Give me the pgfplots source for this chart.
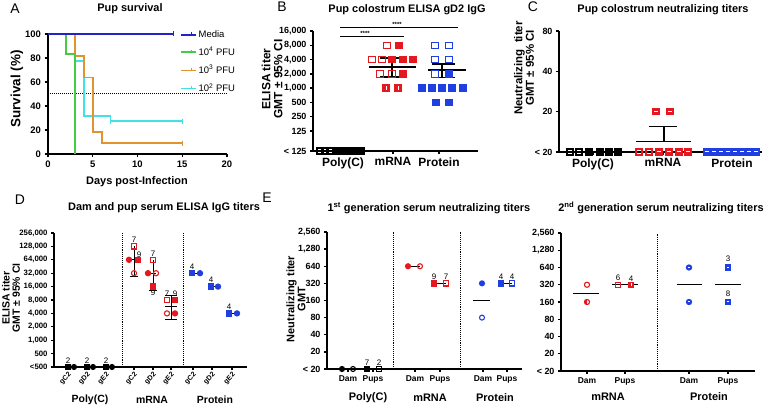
\documentclass[border=0pt]{standalone}
\usepackage{fontspec}
\setmainfont{Liberation Sans}
\usepackage{pgfplots}
\pgfplotsset{compat=1.18}

\definecolor{pRed}{HTML}{E5181F}
\definecolor{pBlue}{HTML}{1F3FE0}
\definecolor{mBlue}{HTML}{2222C8}
\definecolor{pGreen}{HTML}{44CC44}
\definecolor{pOrange}{HTML}{E2922F}
\definecolor{pCyan}{HTML}{40E2E8}

\newcommand{\fs}[1]{\fontsize{#1}{#1}\selectfont}

% filled square with a white dash / bar, circle with dash, half circle
\pgfdeclareplotmark{sqdash}{%
  \pgfpathrectangle{\pgfqpoint{-\pgfplotmarksize}{-\pgfplotmarksize}}{\pgfqpoint{2\pgfplotmarksize}{2\pgfplotmarksize}}%
  \pgfusepathqfillstroke
  \pgfscope\pgfsetstrokecolor{white}\pgfsetlinewidth{1bp}%
  \pgfpathmoveto{\pgfqpoint{-0.55\pgfplotmarksize}{0pt}}\pgfpathlineto{\pgfqpoint{0.55\pgfplotmarksize}{0pt}}\pgfusepathqstroke
  \endpgfscope}
\pgfdeclareplotmark{sqbar}{%
  \pgfpathrectangle{\pgfqpoint{-\pgfplotmarksize}{-\pgfplotmarksize}}{\pgfqpoint{2\pgfplotmarksize}{2\pgfplotmarksize}}%
  \pgfusepathqfillstroke
  \pgfscope\pgfsetstrokecolor{white}\pgfsetlinewidth{1bp}%
  \pgfpathmoveto{\pgfqpoint{0pt}{-0.55\pgfplotmarksize}}\pgfpathlineto{\pgfqpoint{0pt}{0.55\pgfplotmarksize}}\pgfusepathqstroke
  \endpgfscope}
\pgfdeclareplotmark{cdash}{%
  \pgfpathcircle{\pgfpointorigin}{\pgfplotmarksize}\pgfusepathqfillstroke
  \pgfscope\pgfsetstrokecolor{white}\pgfsetlinewidth{1bp}%
  \pgfpathmoveto{\pgfqpoint{-0.5\pgfplotmarksize}{0pt}}\pgfpathlineto{\pgfqpoint{0.5\pgfplotmarksize}{0pt}}\pgfusepathqstroke
  \endpgfscope}
\pgfdeclareplotmark{chalf}{%
  \pgfpathmoveto{\pgfqpoint{0pt}{\pgfplotmarksize}}%
  \pgfpatharc{90}{270}{\pgfplotmarksize}\pgfpathclose\pgfusepathqfill
  \pgfpathcircle{\pgfpointorigin}{\pgfplotmarksize}\pgfusepathqstroke}

\pgfplotsset{
  prism/.style={scale only axis, clip=false, anchor=south west,
    axis lines*=left, axis line style={line width=1.6bp,-},
    tick style={line width=1.3bp, black}, tick align=outside,
    major tick length=3.5bp, minor tick num=0,
    ticklabel style={font=\bfseries\fs{9}}},
}
\tikzset{
  mk/.style={only marks, mark options={solid, line width=1.1bp}},
  ln/.style={black, line width=1.2bp, mark=none},
  lab/.style={font=\fs{8}, inner sep=0.5bp},
  sep/.style={densely dotted, line width=0.9bp, black, mark=none},
}

\begin{document}
\begin{tikzpicture}
\path[use as bounding box] (0,0) rectangle (765bp,407bp);

% ---------------- A: survival
\begin{axis}[prism, at={(48bp,253bp)}, width=179bp, height=120bp,
  xmin=0, xmax=20, ymin=0, ymax=100,
  xtick={0,5,10,15,20}, xticklabels={0,5,10,15,20},
  ytick={0,20,40,60,80,100}, yticklabels={0,20,40,60,80,100},
  ticklabel style={font=\bfseries\fs{9.5}},
  legend style={at={(0.737,1.045)}, anchor=north west, draw=none, fill=none,
    font=\fs{9.5}, row sep=4.2bp, inner sep=0pt},
  legend cell align=left,
  legend image code/.code={\draw[#1] (0bp,0bp)--(15bp,0bp);
    \draw[#1,line width=0.8bp] (10bp,0bp)--(10bp,2.5bp);}]
\addlegendimage{mBlue,line width=1.6bp}\addlegendentry{Media}
\addlegendimage{pGreen,line width=1.6bp}\addlegendentry{10\textsuperscript{4} PFU}
\addlegendimage{pOrange,line width=1.6bp}\addlegendentry{10\textsuperscript{3} PFU}
\addlegendimage{pCyan,line width=1.6bp}\addlegendentry{10\textsuperscript{2} PFU}
\addplot[densely dotted, line width=1bp, forget plot] coordinates {(0,50)(20,50)};
\addplot[const plot, pCyan, line width=1.6bp, forget plot] coordinates {(0,100)(3,77.3)(4,31.8)(7,27.3)(15,27.3)};
\addplot[const plot, pOrange, line width=1.6bp, forget plot] coordinates {(0,100)(3,81.8)(4,63.6)(5,18.2)(6,9.1)(15,9.1)};
\addplot[const plot, pGreen, line width=1.6bp, forget plot] coordinates {(0,100)(2,83.3)(3,0)};
\addplot[mBlue, line width=1.8bp, forget plot] coordinates {(0,100)(14,100)};
\addplot[only marks, mark=|, mark size=2.5bp, mBlue, line width=1bp, forget plot] coordinates {(14,100)};
\addplot[only marks, mark=|, mark size=2.5bp, pOrange, line width=1bp, forget plot] coordinates {(15,9.1)};
\addplot[only marks, mark=|, mark size=2.5bp, pCyan, line width=1bp, forget plot] coordinates {(7,27.3)(15,27.3)};
\end{axis}

% ---------------- B: colostrum ELISA
\begin{axis}[prism, ymode=log, log basis y=2, at={(313bp,256bp)}, width=165bp, height=120bp,
  xmin=0, xmax=165, ymin=47.4, ymax=16000,
  ytick={47.4,125,250,500,1000,2000,4000,8000,16000},
  yticklabels={{< 125},125,250,500,{1,000},{2,000},{4,000},{8,000},{16,000}},
  xtick={30,80,126}, xticklabels={Poly(C),mRNA,Protein},
  xticklabel style={font=\bfseries\fs{12}}, major tick length=3bp]
\addplot[mk, mark=square, black, mark size=3bp] coordinates {(7,47.4)(12,47.4)(17,47.4)};
\addplot[mk, mark=square*, black, mark size=3bp] coordinates {(23,47.4)(28,47.4)(33,47.4)(38,47.4)(43,47.4)(48,47.4)};
\addplot[mk, mark=square, pRed, mark size=3.2bp] coordinates {(74,8000)(59,4000)(69,4000)(67,2000)(79,2000)};
\addplot[mk, mark=square*, pRed, mark size=3.2bp] coordinates {(86,8000)(79,4000)(90,4000)(100,4000)(90,2000)};
\addplot[mk, mark=sqbar, pRed, mark size=3.2bp] coordinates {(73,1000)(85,1000)};
\addplot[ln] coordinates {(56,2792)(103,2792)};
\addplot[ln] coordinates {(79,1720)(79,4320)};
\addplot[ln] coordinates {(67,4320)(92,4320)};
\addplot[ln] coordinates {(67,1720)(92,1720)};
\addplot[mk, mark=square, pBlue, mark size=3.2bp] coordinates {(122,8000)(136,8000)(122,4000)(136,4000)(122,2000)};
\addplot[mk, mark=square*, pBlue, mark size=3.2bp] coordinates {(136,2000)(109,1000)(119,1000)(129,1000)(139,1000)(150,1000)(123,500)(136,500)};
\addplot[ln] coordinates {(115,2413)(153,2413)};
\addplot[ln] coordinates {(129,1693)(129,3226)};
\addplot[ln] coordinates {(119,3226)(142,3226)};
\addplot[ln] coordinates {(119,1693)(142,1693)};
\end{axis}

% ---------------- C: colostrum neutralizing
\begin{axis}[prism, ymode=log, log basis y=2, at={(559bp,255bp)}, width=203bp, height=121bp,
  xmin=0, xmax=203, ymin=10, ymax=80,
  ytick={10,20,40,80}, yticklabels={{< 20},20,40,80},
  xtick={34,104,173}, xticklabels={Poly(C),mRNA,Protein},
  xticklabel style={font=\bfseries\fs{12}}, major tick length=3bp]
\addplot[mk, mark=square, black, mark size=3bp] coordinates {(11,10)(20,10)};
\addplot[mk, mark=square*, black, mark size=3bp] coordinates {(30,10)(41,10)(50,10)(59,10)};
\addplot[mk, mark=square, pRed, mark size=3bp] coordinates {(80,10)(90,10)};
\addplot[mk, mark=sqdash, pRed, mark size=3bp] coordinates {(100,10)(110,10)(120,10)(129,10)(97,20)(111,20)};
\addplot[ln] coordinates {(77,11.9)(132,11.9)};
\addplot[ln] coordinates {(105,11.9)(105,15.6)};
\addplot[ln] coordinates {(90,15.6)(118,15.6)};
\addplot[mk, mark=sqdash, pBlue, mark size=3bp] coordinates {(148,10)(155,10)(162,10)(169,10)(176,10)(183,10)(190,10)(197,10)};
\end{axis}

% ---------------- D: dam and pup serum ELISA
\begin{axis}[prism, ymode=log, log basis y=2, at={(54bp,40bp)}, width=193bp, height=134bp,
  xmin=0, xmax=193, ymin=250, ymax=256000,
  ytick={250,500,1000,2000,4000,8000,16000,32000,64000,128000,256000},
  yticklabels={<500,500,{1,000},{2,000},{4,000},{8,000},{16,000},{32,000},{64,000},{128,000},{256,000}},
  ticklabel style={font=\bfseries\fs{7.8}},
  xtick={14,33,52,80,99,117,139,158,178},
  xticklabels={gC2,gD2,gE2,gC2,gD2,gE2,gC2,gD2,gE2},
  xticklabel style={rotate=45, anchor=north east, inner sep=1bp, font=\bfseries\fs{7}},
  major tick length=3bp]
\addplot[sep] coordinates {(68,250)(68,256000)};
\addplot[sep] coordinates {(129,250)(129,256000)};
% Poly(C)
\addplot[mk, mark=square*, black, mark size=2.5bp] coordinates {(14,250)(33,250)(52,250)};
\addplot[mk, mark=*, black, mark size=2.5bp] coordinates {(20,250)(39,250)(58,250)};
\node[lab, above=3bp] at (axis cs:14,250) {2};
\node[lab, above=3bp] at (axis cs:33,250) {2};
\node[lab, above=3bp] at (axis cs:52,250) {2};
% mRNA
\addplot[ln, line width=1bp] coordinates {(80,26300)(80,128000)};
\addplot[ln, line width=1bp] coordinates {(76,26300)(84,26300)};
\addplot[ln, line width=1bp] coordinates {(99,13400)(99,64000)};
\addplot[ln, line width=1bp] coordinates {(95,13400)(103,13400)};
\addplot[ln, line width=1bp] coordinates {(117,2990)(117,10350)};
\addplot[ln, line width=1bp] coordinates {(111,10350)(123,10350)};
\addplot[ln, line width=1bp] coordinates {(111,2990)(123,2990)};
\addplot[ln, line width=1bp] coordinates {(111,5580)(123,5580)};
\addplot[ln, line width=1bp] coordinates {(75,64000)(84,64000)};
\addplot[ln, line width=1bp] coordinates {(94,32000)(102,32000)};
\addplot[mk, mark=square, pRed, mark size=2.6bp] coordinates {(80,128000)(99,64000)(113,8000)};
\addplot[mk, mark=square*, pRed, mark size=2.6bp] coordinates {(84,64000)(99,16000)(121,8000)};
\addplot[mk, mark=*, pRed, mark size=2.6bp] coordinates {(75,64000)(94,32000)(121,4000)};
\addplot[mk, mark=o, pRed, mark size=2.6bp] coordinates {(80,32000)(102,32000)(113,4000)};
\node[lab, above=3bp] at (axis cs:80,128000) {7};
\node[lab, above=2bp] at (axis cs:85,64000) {9};
\node[lab, above=3bp] at (axis cs:99,64000) {7};
\node[lab, below=3bp] at (axis cs:99,16000) {9};
\node[lab, above=3bp] at (axis cs:113,8000) {7};
\node[lab, above=3bp] at (axis cs:121,8000) {9};
% Protein
\addplot[ln, line width=1bp] coordinates {(138,32000)(146,32000)};
\addplot[ln, line width=1bp] coordinates {(157,16000)(164,16000)};
\addplot[ln, line width=1bp] coordinates {(175,4000)(183,4000)};
\addplot[mk, mark=square*, pBlue, mark size=2.6bp] coordinates {(138,32000)(157,16000)(175,4000)};
\addplot[mk, mark=*, pBlue, mark size=2.6bp] coordinates {(146,32000)(164,16000)(183,4000)};
\node[lab, above=3bp] at (axis cs:138,32000) {4};
\node[lab, above=3bp] at (axis cs:157,16000) {4};
\node[lab, above=3bp] at (axis cs:175,4000) {4};
\end{axis}

% ---------------- E left: 1st generation
\begin{axis}[prism, ymode=log, log basis y=2, at={(327bp,38bp)}, width=195bp, height=137bp,
  xmin=0, xmax=195, ymin=10, ymax=2560,
  ytick={10,20,40,80,160,320,640,1280,2560},
  yticklabels={{< 20},20,40,80,160,320,640,{1,280},{2,560}},
  xtick={21,46,88,113,156,180}, xticklabels={Dam,Pups,Dam,Pups,Dam,Pups},
  xticklabel style={font=\bfseries\fs{8.5}}, major tick length=3bp]
\addplot[sep] coordinates {(66,10)(66,2560)};
\addplot[sep] coordinates {(133,10)(133,2560)};
\addplot[ln, line width=1bp] coordinates {(15,10)(26,10)};
\addplot[ln, line width=1bp] coordinates {(40,10)(52,10)};
\addplot[ln, line width=1bp] coordinates {(81,640)(93,640)};
\addplot[ln, line width=1bp] coordinates {(107,320)(119,320)};
\addplot[ln, line width=1bp] coordinates {(174,320)(185,320)};
\addplot[ln] coordinates {(146,160)(163,160)};
\addplot[mk, mark=*, black, mark size=2.5bp] coordinates {(15,10)};
\addplot[mk, mark=o, black, mark size=2.5bp] coordinates {(26,10)};
\addplot[mk, mark=square*, black, mark size=2.6bp] coordinates {(40,10)};
\addplot[mk, mark=square, black, mark size=2.6bp] coordinates {(52,10)};
\addplot[mk, mark=*, pRed, mark size=2.5bp] coordinates {(81,640)};
\addplot[mk, mark=o, pRed, mark size=2.5bp] coordinates {(93,640)};
\addplot[mk, mark=square*, pRed, mark size=2.6bp] coordinates {(107,320)};
\addplot[mk, mark=square, pRed, mark size=2.6bp] coordinates {(119,320)};
\addplot[mk, mark=*, pBlue, mark size=2.5bp] coordinates {(155,320)};
\addplot[mk, mark=o, pBlue, mark size=2.5bp] coordinates {(155,80)};
\addplot[mk, mark=square*, pBlue, mark size=2.6bp] coordinates {(174,320)};
\addplot[mk, mark=square, pBlue, mark size=2.6bp] coordinates {(185,320)};
\node[lab, above=3bp] at (axis cs:40,10) {7};
\node[lab, above=3bp] at (axis cs:52,10) {2};
\node[lab, above=3bp] at (axis cs:107,320) {9};
\node[lab, above=3bp] at (axis cs:119,320) {7};
\node[lab, above=3bp] at (axis cs:174,320) {4};
\node[lab, above=3bp] at (axis cs:185,320) {4};
\end{axis}

% ---------------- E right: 2nd generation
\begin{axis}[prism, ymode=log, log basis y=2, at={(561bp,36bp)}, width=194bp, height=138bp,
  xmin=0, xmax=194, ymin=10, ymax=2560,
  ytick={10,20,40,80,160,320,640,1280,2560},
  yticklabels={{< 20},20,40,80,160,320,640,{1,280},{2,560}},
  xtick={26,64,128,167}, xticklabels={Dam,Pups,Dam,Pups},
  xticklabel style={font=\bfseries\fs{8.5}}, major tick length=3bp]
\addplot[sep] coordinates {(96,10)(96,2560)};
\addplot[ln] coordinates {(12,226)(38,226)};
\addplot[ln] coordinates {(51,320)(77,320)};
\addplot[ln] coordinates {(116,320)(141,320)};
\addplot[ln] coordinates {(154,320)(180,320)};
\addplot[mk, mark=o, pRed, mark size=2.6bp] coordinates {(26,320)};
\addplot[mk, mark=chalf, pRed, mark size=2.6bp] coordinates {(26,160)};
\addplot[mk, mark=square, pRed, mark size=2.6bp] coordinates {(57,320)};
\addplot[mk, mark=sqbar, pRed, mark size=2.6bp] coordinates {(70,320)};
\addplot[mk, mark=cdash, pBlue, mark size=2.6bp] coordinates {(128,640)(128,160)};
\addplot[mk, mark=sqdash, pBlue, mark size=2.6bp] coordinates {(167,640)(167,160)};
\node[lab, above=3bp] at (axis cs:57,320) {6};
\node[lab, above=3bp] at (axis cs:70,320) {4};
\node[lab, above=5bp] at (axis cs:167,640) {3};
\node[lab, above=5bp] at (axis cs:167,160) {8};
\end{axis}

% ---------------- titles and labels
\node[font=\fs{14}] at (15bp,398bp) {A};
\node[font=\bfseries\fs{11}] at (130bp,398bp) {Pup survival};
\node[font=\bfseries\fs{11}] at (137bp,225bp) {Days post-Infection};
\node[font=\bfseries\fs{13.5}, rotate=90] at (17bp,318bp) {Survival (\%)};

\node[font=\fs{14}] at (282bp,400bp) {B};
\node[font=\bfseries\fs{11}] at (407bp,397bp) {Pup colostrum ELISA gD2 IgG};
\node[font=\bfseries\fs{12}, rotate=90, align=center] at (272bp,328bp) {ELISA titer\\GMT ± 95\% CI};
\draw[line width=1bp] (340bp,379bp) -- (458bp,379bp);
\draw[line width=1bp] (340bp,370bp) -- (404bp,370bp);
\node[font=\bfseries\fs{6}] at (397bp,383bp) {****};
\node[font=\bfseries\fs{6}] at (365bp,374bp) {****};

\node[font=\fs{14}] at (533bp,400bp) {C};
\node[font=\bfseries\fs{11}] at (663bp,397bp) {Pup colostrum neutralizing titers};
\node[font=\bfseries\fs{11.5}, rotate=90, align=center] at (524bp,339bp) {Neutralizing\ \ titer\\GMT ± 95\% CI};

\node[font=\fs{14}] at (20bp,207bp) {D};
\node[font=\bfseries\fs{11}] at (164bp,199bp) {Dam and pup serum ELISA IgG titers};
\node[font=\bfseries\fs{10.5}, rotate=90, align=center] at (11bp,109bp) {ELISA titer\\GMT ± 95\% CI};
\node[font=\bfseries\fs{10.5}] at (90bp,7bp) {Poly(C)};
\node[font=\bfseries\fs{10.5}] at (152bp,7bp) {mRNA};
\node[font=\bfseries\fs{10.5}] at (215bp,7bp) {Protein};

\node[font=\fs{14}] at (267bp,209bp) {E};
\node[font=\bfseries\fs{11}, anchor=west] at (324bp,199bp) {1\textsuperscript{st} generation serum neutralizing titers};
\node[font=\bfseries\fs{11}, rotate=90, align=center] at (296bp,108bp) {Neutralizing titer\\GMT};
\node[font=\bfseries\fs{11}] at (368bp,9bp) {Poly(C)};
\node[font=\bfseries\fs{11}] at (430bp,9bp) {mRNA};
\node[font=\bfseries\fs{11}] at (495bp,9bp) {Protein};
\node[font=\bfseries\fs{11}] at (661bp,199bp) {2\textsuperscript{nd} generation serum neutralizing titers};
\node[font=\bfseries\fs{11}] at (608bp,10bp) {mRNA};
\node[font=\bfseries\fs{11}] at (709bp,10bp) {Protein};
\end{tikzpicture}
\end{document}
